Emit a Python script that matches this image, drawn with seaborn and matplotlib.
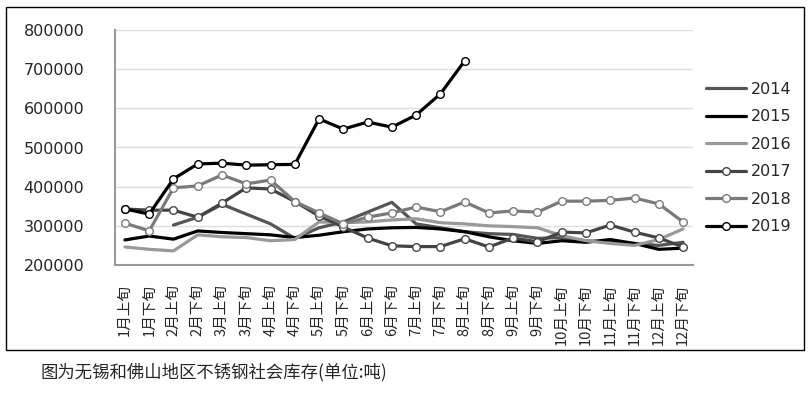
import numpy as np
import pandas as pd
import seaborn as sns
from matplotlib import pyplot as plt
from matplotlib.patches import Rectangle

# 旬次标签
periods = []
for m in range(1, 13):
    periods.append(str(m) + "月上旬")
    periods.append(str(m) + "月下旬")

nan = np.nan
v2014 = [nan, nan, 302000, 322000, 355000, 330000, 305000, 268000, 295000, 310000, 335000, 360000,
         305000, 295000, 285000, 280000, 278000, 268000, 270000, 262000, 258000, 255000, 250000, 258000]
v2015 = [264000, 274000, 266000, 287000, 283000, 280000, 277000, 270000, 276000, 285000, 292000, 295000,
         296000, 292000, 285000, 272000, 262000, 255000, 262000, 258000, 265000, 255000, 240000, 243000]
v2016 = [246000, 240000, 236000, 277000, 272000, 270000, 262000, 265000, 310000, 308000, 310000, 315000,
         318000, 308000, 305000, 300000, 298000, 295000, 275000, 262000, 255000, 250000, 265000, 292000]
v2017 = [343000, 340000, 340000, 322000, 358000, 397000, 394000, 362000, 325000, 297000, 269000, 249000,
         247000, 247000, 267000, 246000, 269000, 259000, 284000, 282000, 302000, 284000, 269000, 246000]
v2018 = [307000, 287000, 397000, 402000, 430000, 407000, 417000, 362000, 333000, 305000, 322000, 333000,
         348000, 336000, 361000, 333000, 338000, 335000, 363000, 363000, 365000, 371000, 356000, 310000]
v2019 = [343000, 330000, 420000, 458000, 460000, 455000, 456000, 457000, 573000, 547000, 565000, 552000,
         583000, 637000, 721000]

series = {"2014": v2014, "2015": v2015, "2016": v2016,
          "2017": v2017, "2018": v2018, "2019": v2019}

rows = []
for year, vals in series.items():
    for i, v in enumerate(vals):
        rows.append({"year": year, "idx": i, "val": v})
df = pd.DataFrame(rows).dropna()

sns.set_style("white")
plt.rcParams["font.family"] = ["DejaVu Sans", "Noto Sans CJK SC"]

styles = {
    "2014": dict(color="#555555", marker=None),
    "2015": dict(color="#000000", marker=None),
    "2016": dict(color="#999999", marker=None),
    "2017": dict(color="#444444", marker="o"),
    "2018": dict(color="#7a7a7a", marker="o"),
    "2019": dict(color="#000000", marker="o"),
}

fig = plt.figure(figsize=(8.11, 3.93), dpi=100)
ax = fig.add_axes([115 / 811, 1 - 265 / 393, (693 - 115) / 811, (265 - 30) / 393])

for year in series:
    st = styles[year]
    kw = {}
    if st["marker"]:
        kw = dict(marker="o", markersize=5.5, markerfacecolor="white",
                  markeredgecolor=st["color"], markeredgewidth=1.0)
    sns.lineplot(data=df[df.year == year], x="idx", y="val", ax=ax,
                 color=st["color"], linewidth=2.3, label=year,
                 errorbar=None, **kw)

ax.set_ylim(200000, 800000)
ax.set_yticks(range(200000, 800001, 100000))
ax.set_yticklabels([str(v) for v in range(200000, 800001, 100000)], fontsize=11.5)
ax.set_xlim(-0.41, 23.41)
ax.set_xticks(range(len(periods)))
ax.set_xticklabels(periods, rotation=90, fontsize=10.5,
                   fontfamily=["Noto Sans CJK SC", "DejaVu Sans"], va="top")
ax.tick_params(axis="y", length=0, pad=22)
ax.tick_params(axis="x", length=0, pad=14)
ax.set_xlabel("")
ax.set_ylabel("")
ax.grid(axis="y", color="#dddddd", linewidth=1)
ax.grid(axis="x", visible=False)
for s in ["top", "right"]:
    ax.spines[s].set_visible(False)
ax.spines["left"].set_color("#999999")
ax.spines["bottom"].set_color("#999999")
ax.spines["left"].set_linewidth(1.5)
ax.spines["bottom"].set_linewidth(1.5)

ax.legend(loc="center left", bbox_to_anchor=(692 / 811, 1 - 158 / 393),
          bbox_transform=fig.transFigure, frameon=False, fontsize=11.5,
          handlelength=2.5, handletextpad=0.3, labelspacing=0.78)

fig.patches.append(Rectangle((6 / 811, 1 - 350 / 393), 798 / 811, 343 / 393,
                             transform=fig.transFigure, fill=False,
                             edgecolor="black", linewidth=1))

fig.text(41 / 811, 1 - 372 / 393, "图为无锡和佛山地区不锈钢社会库存(单位:吨)",
         fontsize=12.5, family=["Noto Sans CJK SC", "DejaVu Sans"], va="center")

fig.savefig("out.png", dpi=100)
